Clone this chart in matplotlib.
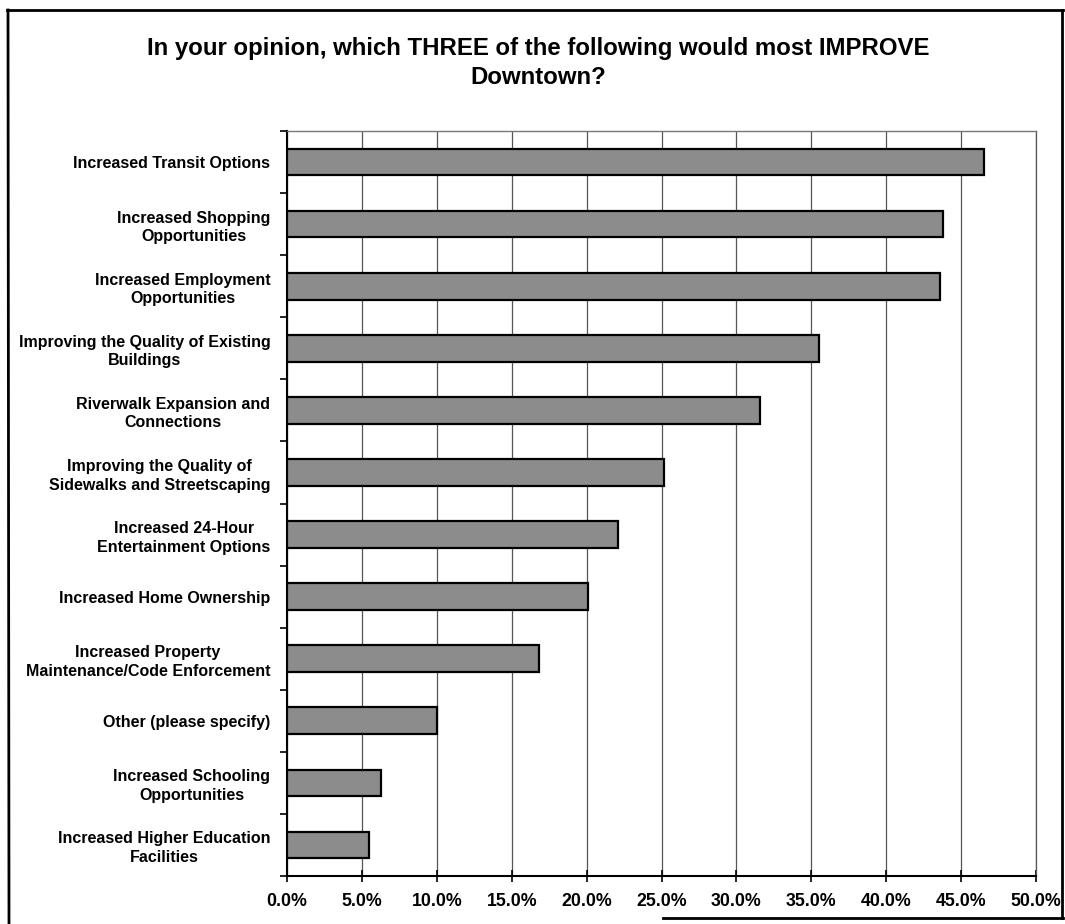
import matplotlib
matplotlib.use("Agg")
import matplotlib.pyplot as plt
from matplotlib.lines import Line2D
from matplotlib.ticker import FixedLocator, FuncFormatter

plt.rcParams['font.family'] = ['Liberation Sans', 'DejaVu Sans']

title = "In your opinion, which THREE of the following would most IMPROVE\nDowntown?"
categories = [
    "Increased Transit Options",
    "Increased Shopping\nOpportunities",
    "Increased Employment\nOpportunities",
    "Improving the Quality of Existing\nBuildings",
    "Riverwalk Expansion and\nConnections",
    "Improving the Quality of\nSidewalks and Streetscaping",
    "Increased 24-Hour\nEntertainment Options",
    "Increased Home Ownership",
    "Increased Property\nMaintenance/Code Enforcement",
    "Other (please specify)",
    "Increased Schooling\nOpportunities",
    "Increased Higher Education\nFacilities",
]
values = [46.5, 43.8, 43.6, 35.5, 31.6, 25.2, 22.1, 20.1, 16.8, 10.0, 6.3, 5.5]
xticks = [0, 5, 10, 15, 20, 25, 30, 35, 40, 45, 50]

W, H = 1065, 924
fig = plt.figure(figsize=(W / 100, H / 100), dpi=100)
fig.patch.set_facecolor('white')

def fx(px):
    return px / W

def fy(py):
    return 1 - py / H

ax = fig.add_axes([fx(287), fy(876), fx(1036) - fx(287), fy(131) - fy(876)])

ypos = list(range(len(categories)))
ax.barh(ypos, values, height=0.43, color='#8c8c8c', edgecolor='black', linewidth=1.6, zorder=3)
ax.set_ylim(len(categories) - 0.5, -0.5)
ax.set_xlim(0, 50)

ax.set_yticks(ypos)
ax.set_yticklabels(categories, fontsize=11.5, fontweight='bold', multialignment='center',
                   linespacing=1.3)
ax.tick_params(axis='y', which='major', length=0, pad=12)
ax.yaxis.set_minor_locator(FixedLocator([i - 0.5 for i in range(len(categories) + 1)]))
ax.tick_params(axis='y', which='minor', length=5, width=1.2, direction='out', color='black')

ax.xaxis.set_major_locator(FixedLocator(xticks))
ax.xaxis.set_major_formatter(FuncFormatter(lambda v, p: f"{v:.1f}%"))
ax.tick_params(axis='x', which='major', direction='inout', length=9, width=1.2, pad=8, labelsize=12.8)
for lab in ax.get_xticklabels():
    lab.set_fontweight('bold')

ax.grid(axis='x', color='#555555', linewidth=0.9, zorder=0)
ax.set_axisbelow(True)
for side in ['left', 'bottom']:
    ax.spines[side].set_color('black')
    ax.spines[side].set_linewidth(1.5)
ax.spines['top'].set_color('#777777')
ax.spines['top'].set_linewidth(1.0)
ax.spines['right'].set_color('#555555')
ax.spines['right'].set_linewidth(0.9)

fig.text(fx(538), fy(63), title, ha='center', va='center', fontsize=17.3,
         fontweight='bold', linespacing=1.3)

# outer frame (bottom edge only partially visible in the scan)
frame_kw = dict(color='black', linewidth=2.0, transform=fig.transFigure)
fig.add_artist(Line2D([fx(7), fx(1063)], [fy(10), fy(10)], **frame_kw))
fig.add_artist(Line2D([fx(8), fx(9)], [fy(10), fy(924)], **frame_kw))
fig.add_artist(Line2D([fx(1062), fx(1062)], [fy(10), fy(918)], **frame_kw))
fig.add_artist(Line2D([fx(663), fx(1063)], [fy(918), fy(918)], **frame_kw))

fig.savefig("out.png", dpi=100, facecolor='white')
